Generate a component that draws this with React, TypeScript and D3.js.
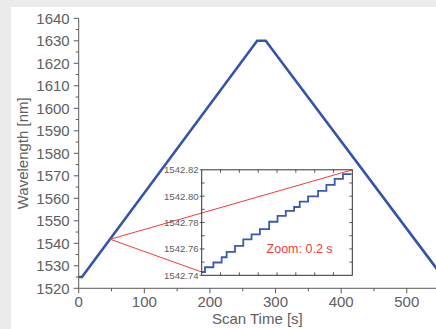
import React from "react";
import * as d3 from "d3";

// Main scan: time [s] vs wavelength [nm]
const mainTime = [0, 5, 272, 285, 550];
const mainWave = [1525, 1525, 1630, 1630, 1527];

const xMajorTicks = [0, 100, 200, 300, 400, 500];
const xMinorTicks = [50, 150, 250, 350, 450];
const yMajorTicks = [1520, 1530, 1540, 1550, 1560, 1570, 1580, 1590, 1600, 1610, 1620, 1630, 1640];
const yMinorTicks = [1525, 1535, 1545, 1555, 1565, 1575, 1585, 1595, 1605, 1615, 1625, 1635];

// Zoomed region (0.2 s)
const stepStart = [0, 0.0044, 0.0155, 0.0265, 0.0331, 0.0442, 0.0552, 0.0662, 0.0773, 0.0896, 0.1007, 0.1117, 0.1227, 0.1302, 0.1413, 0.1545, 0.1656, 0.1766, 0.1876];
const stepValue = [1542.7425, 1542.7461, 1542.7497, 1542.7537, 1542.7578, 1542.7623, 1542.7672, 1542.771, 1542.775, 1542.7806, 1542.785, 1542.7888, 1542.7918, 1542.7959, 1542.7999, 1542.804, 1542.8086, 1542.8131, 1542.8167];
const stepEnd = 0.199;
const insetYTicks = [1542.74, 1542.76, 1542.78, 1542.8, 1542.82];
const insetYMinor = [1542.75, 1542.76, 1542.77, 1542.78, 1542.79, 1542.8, 1542.81];
const insetXTicks = [0.025, 0.05, 0.075, 0.1, 0.125, 0.15, 0.175];
const zoomPoint = { t: 48, w: 1541.8 };
const zoomLabel = "Zoom: 0.2 s";

const W = 436;
const H = 329;
const FONT = "'Liberation Sans', Arial, Helvetica, sans-serif";
const TXT = "#606060";
const AX = "#5a5a5a";
const BLUE = "#3553aa";
const RED = "#f43c3c";

export default function App() {
  const x = d3.scaleLinear().domain([0, 545]).range([78.7, 436.3]);
  const y = d3.scaleLinear().domain([1520, 1640]).range([288.3, 18.3]);
  const xi = d3.scaleLinear().domain([0, 0.2]).range([201.7, 352.3]);
  const yi = d3.scaleLinear().domain([1542.74, 1542.82]).range([275.3, 169.8]);

  const mainPts: [number, number][] = mainTime.map((t, i) => [t, mainWave[i]]);
  const mainLine = d3
    .line<[number, number]>()
    .x((d) => x(d[0]))
    .y((d) => y(d[1]))(mainPts);

  const stepPts: [number, number][] = stepStart.map((t, i) => [t, stepValue[i]]);
  stepPts.push([stepEnd, stepValue[stepValue.length - 1]]);
  const stepLine = d3
    .line<[number, number]>()
    .x((d) => xi(d[0]))
    .y((d) => yi(d[1]))
    .curve(d3.curveStepAfter)(stepPts);

  const px = x(zoomPoint.t);
  const py = y(zoomPoint.w);
  const [ix0, ix1] = xi.range();
  const [iy0, iy1] = yi.range();

  return (
    <svg
      width={W}
      height={H}
      style={{ position: "absolute", left: 0, top: 0, display: "block" }}
      fontFamily={FONT}
    >
      <defs>
        <clipPath id="plotclip">
          <rect x={x(0)} y={0} width={W - x(0)} height={y(1520)} />
        </clipPath>
      </defs>
      <rect x={0} y={0} width={W} height={H} fill="#ebebeb" />
      <rect x={11} y={7} width={W - 11} height={H - 7} fill="#ffffff" />

      {/* main line */}
      <path d={mainLine || ""} fill="none" stroke={BLUE} strokeWidth={2.6} clipPath="url(#plotclip)" />

      {/* Y axis */}
      <line x1={x(0)} x2={x(0)} y1={y(1520)} y2={y(1640)} stroke={AX} strokeWidth={1} />
      {yMajorTicks.map((v) => (
        <g key={"ym" + v}>
          <line x1={x(0) - 5} x2={x(0)} y1={y(v)} y2={y(v)} stroke={AX} strokeWidth={1} />
          <text x={x(0) - 9} y={y(v)} dy="0.35em" textAnchor="end" fontSize={15} fill={TXT}>
            {v}
          </text>
        </g>
      ))}
      {yMinorTicks.map((v) => (
        <line key={"yn" + v} x1={x(0) - 3} x2={x(0)} y1={y(v)} y2={y(v)} stroke={AX} strokeWidth={1} />
      ))}
      <text
        transform={`translate(23,${(y(1520) + y(1640)) / 2}) rotate(-90)`}
        textAnchor="middle"
        dy="0.35em"
        fontSize={15}
        fill={TXT}
      >
        Wavelength [nm]
      </text>

      {/* X axis */}
      <line x1={x(0)} x2={W} y1={y(1520)} y2={y(1520)} stroke={AX} strokeWidth={1} />
      {xMajorTicks.map((v) => (
        <g key={"xm" + v}>
          <line x1={x(v)} x2={x(v)} y1={y(1520)} y2={y(1520) + 5} stroke={AX} strokeWidth={1} />
          <text x={x(v)} y={y(1520) + 19} textAnchor="middle" fontSize={15} fill={TXT}>
            {v}
          </text>
        </g>
      ))}
      {xMinorTicks.map((v) => (
        <line key={"xn" + v} x1={x(v)} x2={x(v)} y1={y(1520)} y2={y(1520) + 3} stroke={AX} strokeWidth={1} />
      ))}
      <text x={(x(0) + W) / 2} y={324} textAnchor="middle" fontSize={15} fill={TXT}>
        Scan Time [s]
      </text>

      {/* Inset */}
      <rect x={ix0} y={iy1} width={ix1 - ix0} height={iy0 - iy1} fill="#ffffff" />
      <line x1={px} y1={py} x2={ix1} y2={iy1} stroke={RED} strokeWidth={1} />
      <line x1={px} y1={py} x2={ix0} y2={yi(stepValue[0])} stroke={RED} strokeWidth={1} />
      <path d={stepLine || ""} fill="none" stroke="#3a5ab2" strokeWidth={1.8} />
      <text x={xi(0.13)} y={yi(1542.757)} textAnchor="middle" fontSize={12.5} fill={RED}>
        {zoomLabel}
      </text>
      {insetYMinor.map((v) => (
        <g key={"iy" + v}>
          <line x1={ix0} x2={ix0 + 3} y1={yi(v)} y2={yi(v)} stroke="#333" strokeWidth={0.8} />
          <line x1={ix1 - 3} x2={ix1} y1={yi(v)} y2={yi(v)} stroke="#333" strokeWidth={0.8} />
        </g>
      ))}
      {insetXTicks.map((v) => (
        <g key={"ix" + v}>
          <line x1={xi(v)} x2={xi(v)} y1={iy1} y2={iy1 + 3} stroke="#333" strokeWidth={0.8} />
          <line x1={xi(v)} x2={xi(v)} y1={iy0 - 3} y2={iy0} stroke="#333" strokeWidth={0.8} />
        </g>
      ))}
      {insetYTicks.map((v) => (
        <g key={"il" + v}>
          <line x1={ix0 - 2} x2={ix0} y1={yi(v)} y2={yi(v)} stroke="#333" strokeWidth={0.8} />
          <text x={ix0 - 3} y={yi(v)} dy="0.35em" textAnchor="end" fontSize={9.6} fill={TXT}>
            {d3.format(".2f")(v)}
          </text>
        </g>
      ))}
      <rect x={ix0} y={iy1} width={ix1 - ix0} height={iy0 - iy1} fill="none" stroke="#333" strokeWidth={1} />
    </svg>
  );
}
